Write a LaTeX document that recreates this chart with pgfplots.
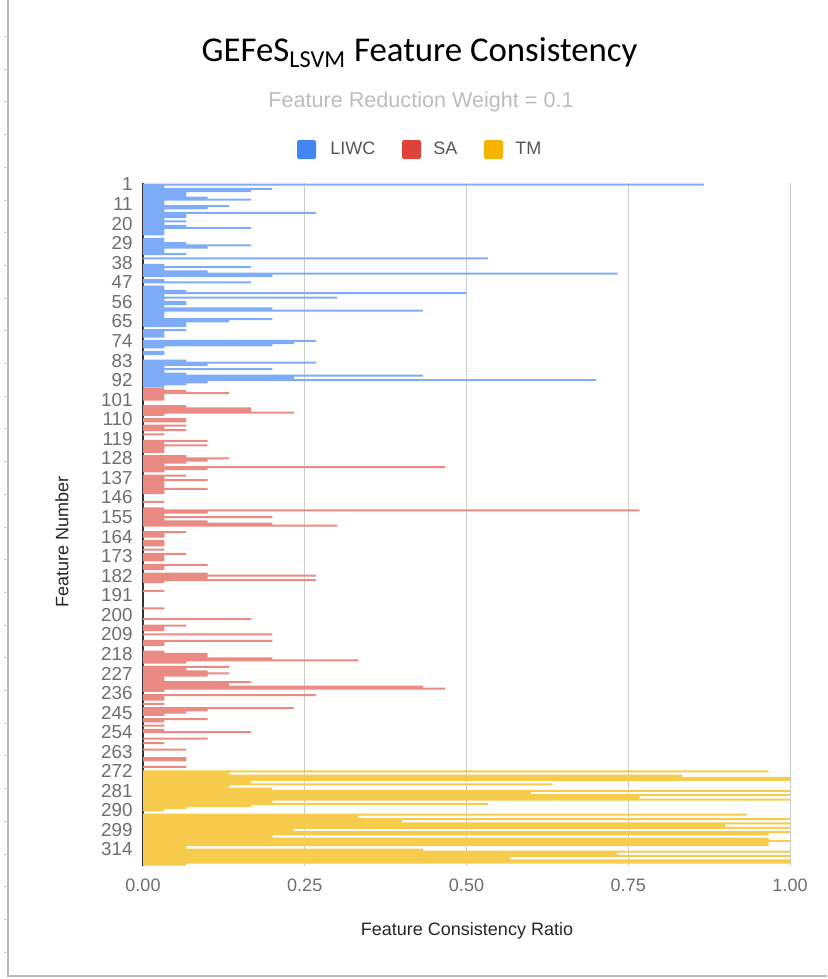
\documentclass[border=0pt]{standalone}
\usepackage{pgfplots}
\pgfplotsset{compat=1.18}
\usepackage{fontspec}
\setmainfont{Liberation Sans}
\newfontfamily\titlefont{Carlito}
\definecolor{gblue}{HTML}{4285F4}
\definecolor{gred}{HTML}{DB4437}
\definecolor{gyellow}{HTML}{F4B400}
\definecolor{ticktxt}{HTML}{6E6E6E}
\definecolor{gridc}{HTML}{CCCCCC}
\definecolor{subc}{HTML}{BDBDBD}
\definecolor{legtxt}{HTML}{555555}
\begin{document}
\begin{tikzpicture}
\path[use as bounding box] (0,0) rectangle (413.5pt,-489.5pt);
% screenshot frame
\draw[gray!55, line width=0.6pt] (4pt,0) -- (4pt,-488pt) -- (413.5pt,-488pt);
\foreach \k in {1,...,29} {\draw[gray!45, line width=0.5pt] (1.8pt,{-(3.8+32.7*\k)*0.5pt}) -- (4pt,{-(3.8+32.7*\k)*0.5pt});}
% title
\node[anchor=base, font=\titlefont\fontsize{17.4}{20}\selectfont] at (209.75pt,-31pt) {GEFeS\textsubscript{LSVM} Feature Consistency};
\node[anchor=base, text=subc, font=\fontsize{10.8}{12}\selectfont] at (210.5pt,-53.7pt) {Feature Reduction Weight = 0.1};
% legend
\fill[gblue, rounded corners=0.8pt] (148.5pt,-70pt) rectangle (158pt,-79.5pt);
\node[anchor=base west, inner sep=0pt, text=legtxt, font=\fontsize{9}{10}\selectfont] at (165pt,-77.5pt) {LIWC};
\fill[gred, rounded corners=0.8pt] (201pt,-70pt) rectangle (210.5pt,-79.5pt);
\node[anchor=base west, inner sep=0pt, text=legtxt, font=\fontsize{9}{10}\selectfont] at (216.5pt,-77.5pt) {SA};
\fill[gyellow, rounded corners=0.8pt] (242pt,-70pt) rectangle (251.5pt,-79.5pt);
\node[anchor=base west, inner sep=0pt, text=legtxt, font=\fontsize{9}{10}\selectfont] at (257.5pt,-77.5pt) {TM};
% axis labels
\node[anchor=base, text=black!85, font=\fontsize{9}{10}\selectfont] at (233.5pt,-467.5pt) {Feature Consistency Ratio};
\node[rotate=90, text=black!85, font=\fontsize{9}{10}\selectfont] at (31pt,-271pt) {Feature Number};
\begin{axis}[
  at={(71.5pt,-433pt)}, anchor=south west,
  scale only axis, width=323.5pt, height=341.4pt,
  xmin=0, xmax=1, ymin=-0.6, ymax=313.6,
  y dir=reverse,
  axis line style={draw=none},
  xbar, bar shift=0pt, bar width=0.92,
  xtick={0.25,0.5,0.75,1},
  extra x ticks={0},
  extra x tick style={grid style={black!80, line width=0.8pt}},
  xmajorgrids, grid style={gridc, line width=0.5pt},
  major tick length=0pt,
  xticklabel style={text=ticktxt, font=\fontsize{9}{10}\selectfont, yshift=-3pt},
  /pgf/number format/.cd, fixed, fixed zerofill, precision=2, assume math mode=true, /pgfplots/.cd,
  ytick={0,9,...,306},
  yticklabels={1,11,20,29,38,47,56,65,74,83,92,101,110,119,128,137,146,155,164,173,182,191,200,209,218,227,236,245,254,263,272,281,290,299,314},
  yticklabel style={text=ticktxt, font=\fontsize{9.4}{10}\selectfont, inner xsep=0pt, xshift=-5pt},
  clip=false,
]
\addplot[draw=none, fill=gblue!68!white] coordinates {
(0.867,0)(0.033,1)(0.2,2)(0.167,3)(0.067,4)(0.067,5)(0.1,6)(0.167,7)(0.033,8)(0.033,9)(0.133,10)(0.1,11)(0.033,12)(0.267,13)(0.067,14)(0.067,15)(0.033,16)(0.067,17)(0.033,18)(0.067,19)(0.167,20)(0.033,21)(0.033,22)(0.033,23)(0.033,25)(0.033,26)(0.067,27)(0.167,28)(0.1,29)(0.033,30)(0.033,31)(0.067,32)(0.533,34)(0.033,37)(0.167,38)(0.033,39)(0.1,40)(0.733,41)(0.2,42)(0.033,44)(0.167,45)(0.033,47)(0.033,48)(0.067,49)(0.5,50)(0.033,51)(0.3,52)(0.033,53)(0.067,54)(0.067,55)(0.033,56)(0.2,57)(0.433,58)(0.033,59)(0.033,60)(0.033,61)(0.2,62)(0.133,63)(0.067,64)(0.067,65)(0.067,67)(0.033,68)(0.033,69)(0.033,70)(0.267,72)(0.233,73)(0.2,74)(0.033,75)(0.033,77)(0.033,78)(0.067,81)(0.267,82)(0.1,83)(0.033,84)(0.2,85)(0.033,86)(0.067,87)(0.433,88)(0.233,89)(0.7,90)(0.1,91)(0.067,92)(0.033,93)
};
\addplot[draw=none, fill=gred!62!white] coordinates {
(0.033,94)(0.067,95)(0.133,96)(0.033,97)(0.033,98)(0.033,99)(0.067,102)(0.167,103)(0.167,104)(0.233,105)(0.033,106)(0.067,108)(0.067,109)(0.067,111)(0.033,112)(0.067,113)(0.033,115)(0.1,118)(0.033,119)(0.1,120)(0.033,121)(0.033,122)(0.033,123)(0.067,125)(0.133,126)(0.1,127)(0.067,128)(0.033,129)(0.467,130)(0.1,131)(0.033,132)(0.067,134)(0.033,135)(0.1,136)(0.033,137)(0.033,138)(0.033,139)(0.1,140)(0.033,141)(0.033,142)(0.033,146)(0.033,149)(0.767,150)(0.1,151)(0.033,152)(0.2,153)(0.033,154)(0.1,155)(0.2,156)(0.3,157)(0.067,160)(0.033,161)(0.033,162)(0.033,164)(0.033,165)(0.033,166)(0.033,168)(0.067,170)(0.033,171)(0.033,172)(0.033,173)(0.1,175)(0.033,176)(0.033,177)(0.1,179)(0.267,180)(0.1,181)(0.267,182)(0.033,183)(0.033,187)(0.033,195)(0.167,200)(0.067,203)(0.033,204)(0.033,205)(0.2,207)(0.2,210)(0.033,211)(0.033,212)(0.033,215)(0.1,216)(0.1,217)(0.2,218)(0.333,219)(0.067,220)(0.133,222)(0.067,223)(0.1,224)(0.133,225)(0.1,226)(0.033,227)(0.033,228)(0.167,229)(0.133,230)(0.433,231)(0.467,232)(0.033,233)(0.267,235)(0.033,236)(0.033,237)(0.033,239)(0.233,241)(0.1,242)(0.067,243)(0.033,244)(0.1,246)(0.033,247)(0.033,249)(0.033,251)(0.167,252)(0.1,255)(0.033,257)(0.067,260)(0.067,264)(0.067,265)(0.067,268)
};
\addplot[draw=none, fill=gyellow!70!white] coordinates {
(0.967,270)(0.133,271)(0.833,272)(1,273)(1,274)(0.167,275)(0.633,276)(0.133,277)(0.2,278)(1,279)(0.6,280)(1,281)(0.767,282)(1,283)(0.2,284)(0.533,285)(0.167,286)(0.067,287)(0.033,288)(0.933,290)(0.333,291)(1,292)(0.4,293)(1,294)(0.9,295)(1,296)(0.233,297)(1,298)(0.967,299)(0.2,300)(0.967,301)(1,302)(0.967,303)(0.967,304)(0.067,305)(0.433,306)(1,307)(0.733,308)(1,309)(0.567,310)(1,311)(1,312)(0.067,313)
};
\end{axis}
\end{tikzpicture}
\end{document}
